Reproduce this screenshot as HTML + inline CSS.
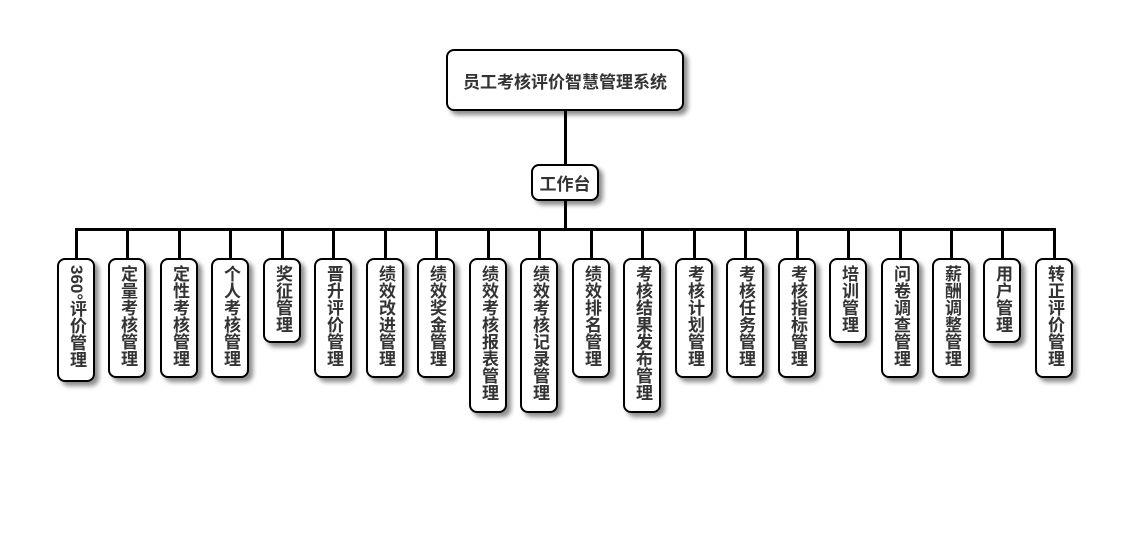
<!DOCTYPE html>
<html><head><meta charset="utf-8"><style>
body{margin:0;width:1130px;height:560px;background:#fff;position:relative;overflow:hidden;font-family:"Liberation Sans","Noto Sans CJK SC",sans-serif;}
.b{position:absolute;box-sizing:border-box;border:2px solid #000;border-radius:8px;background:#fff;box-shadow:4px 4px 5px rgba(0,0,0,.45);color:#333;font-weight:bold;font-size:17px;}
.v{writing-mode:vertical-rl;text-orientation:mixed;display:flex;align-items:center;justify-content:flex-start;padding-top:5px;line-height:36px;letter-spacing:0px;}
.l{position:absolute;background:#000;}
</style></head><body>
<div class="b" style="left:446px;top:49px;width:238px;height:62px;display:flex;align-items:center;justify-content:center;">员工考核评价智慧管理系统</div>
<div class="l" style="left:564px;top:111px;width:3px;height:54px"></div>
<div class="b" style="left:531px;top:164px;width:68px;height:37px;display:flex;align-items:center;justify-content:center;">工作台</div>
<div class="l" style="left:564px;top:201px;width:3px;height:29px"></div>
<div class="l" style="left:75px;top:228px;width:981px;height:3px"></div>
<div id="c"></div>
<script>
var d=[["360°评价管理",382],["定量考核管理",378],["定性考核管理",378],["个人考核管理",378],["奖征管理",343],["晋升评价管理",378],["绩效改进管理",378],["绩效奖金管理",378],["绩效考核报表管理",413],["绩效考核记录管理",413],["绩效排名管理",378],["考核结果发布管理",413],["考核计划管理",378],["考核任务管理",378],["考核指标管理",378],["培训管理",343],["问卷调查管理",378],["薪酬调整管理",378],["用户管理",343],["转正评价管理",378]];
var h="";
d.forEach(function(e,i){var cx=Math.round(76+i*51.47);
h+='<div class="l" style="left:'+(cx-1)+'px;top:229px;width:3px;height:30px"></div>';
h+='<div class="b v" style="left:'+(cx-19)+'px;top:258px;width:38px;height:'+(e[1]-258)+'px">'+e[0]+'</div>';});
document.getElementById("c").innerHTML=h;
</script>
</body></html>
